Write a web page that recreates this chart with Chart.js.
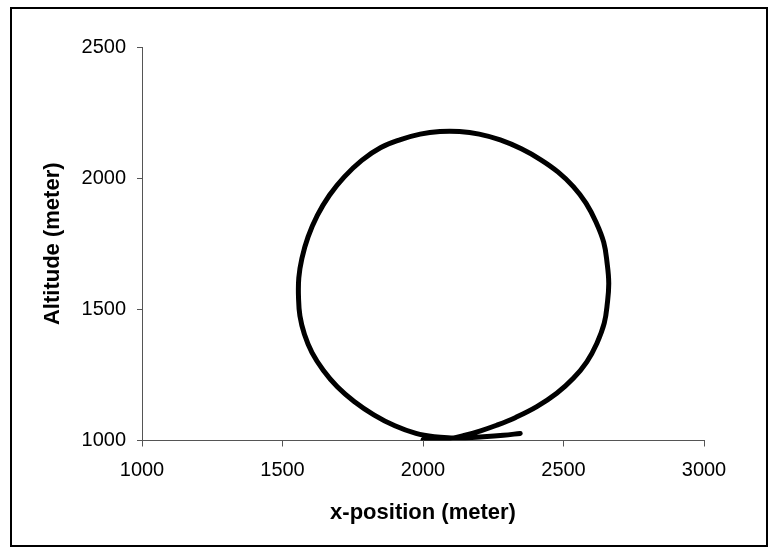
<!DOCTYPE html>
<html>
<head>
<meta charset="utf-8">
<title>Loop trajectory</title>
<script src="https://cdn.jsdelivr.net/npm/chart.js@4/dist/chart.umd.min.js"></script>
<style>
  html, body { margin: 0; padding: 0; background: #fff; }
  canvas { display: block; }
</style>
</head>
<body>
<canvas id="loopChart" width="777" height="553"></canvas>
<script>
// flight path of the loop, in metres
const xPosition = [
  2000, 2050, 2100, 2150, 2205, 2262, 2330, 2405, 2476, 2535,
  2583, 2619, 2645, 2656, 2661, 2655, 2643, 2616, 2580, 2535,
  2480, 2418, 2350, 2275, 2200, 2130, 2060, 1990, 1920, 1850,
  1782, 1720, 1667, 1624, 1591, 1569, 1558, 1557, 1562, 1578,
  1605, 1645, 1695, 1755, 1825, 1900, 1975, 2040, 2100, 2150,
  2215, 2286, 2346
]
const altitude = [
  1003, 1004, 1008, 1020, 1037, 1058, 1088, 1129, 1180, 1237,
  1300, 1371, 1447, 1523, 1600, 1678, 1756, 1832, 1905, 1968,
  2024, 2071, 2112, 2146, 2168, 2178, 2178, 2168, 2147, 2117,
  2068, 2005, 1935, 1858, 1776, 1694, 1620, 1545, 1475, 1405,
  1335, 1268, 1205, 1149, 1098, 1056, 1027, 1014, 1010, 1010,
  1014, 1020, 1027
]

const xTicks = [1000, 1500, 2000, 2500, 3000]
const yTicks = [1000, 1500, 2000, 2500]

const FONT = '"Liberation Sans", Arial, sans-serif'
const AXIS_COLOR = '#555'

// thin black frame round the whole picture
const frame = {
  id: 'frame',
  afterDraw(chart) {
    const ctx = chart.ctx
    ctx.save()
    ctx.strokeStyle = '#000'
    ctx.lineWidth = 2
    ctx.strokeRect(11, 8, 756, 538)
    ctx.restore()
  }
}

const points = xPosition.map((x, i) => ({ x, y: altitude[i] }))

new Chart(document.getElementById('loopChart'), {
  type: 'scatter',
  data: {
    datasets: [{
      data: points,
      showLine: true,
      borderColor: '#000',
      borderWidth: 5,
      borderCapStyle: 'round',
      borderJoinStyle: 'round',
      tension: 0.4,
      pointRadius: 0,
      pointHoverRadius: 0
    }]
  },
  options: {
    responsive: false,
    animation: false,
    layout: { padding: { left: 0, right: 73, top: 47, bottom: 0 } },
    plugins: {
      legend: { display: false },
      tooltip: { enabled: false }
    },
    scales: {
      x: {
        type: 'linear',
        min: xTicks[0],
        max: xTicks[xTicks.length - 1],
        afterBuildTicks: scale => { scale.ticks = xTicks.map(v => ({ value: v })) },
        afterFit: scale => { scale.height = 112.5 },
        border: { display: true, color: AXIS_COLOR, width: 1 },
        grid: { drawOnChartArea: false, drawTicks: true, tickLength: 6, color: AXIS_COLOR },
        ticks: {
          color: '#000',
          padding: 12,
          maxRotation: 0,
          font: { family: FONT, size: 20 },
          callback: v => String(v)
        },
        title: {
          display: true,
          text: 'x-position (meter)',
          color: '#000',
          padding: { top: 0, bottom: 27 },
          font: { family: FONT, size: 22, weight: 'bold' }
        }
      },
      y: {
        type: 'linear',
        min: yTicks[0],
        max: yTicks[yTicks.length - 1],
        afterBuildTicks: scale => { scale.ticks = yTicks.map(v => ({ value: v })) },
        afterFit: scale => { scale.width = 142 },
        border: { display: true, color: AXIS_COLOR, width: 1 },
        grid: { drawOnChartArea: false, drawTicks: true, tickLength: 5, color: AXIS_COLOR },
        ticks: {
          color: '#000',
          padding: 11,
          font: { family: FONT, size: 20 },
          callback: v => String(v)
        },
        title: {
          display: true,
          text: 'Altitude (meter)',
          color: '#000',
          padding: { top: 40, bottom: 0 },
          font: { family: FONT, size: 22, weight: 'bold' }
        }
      }
    }
  },
  plugins: [frame]
})
</script>
</body>
</html>
